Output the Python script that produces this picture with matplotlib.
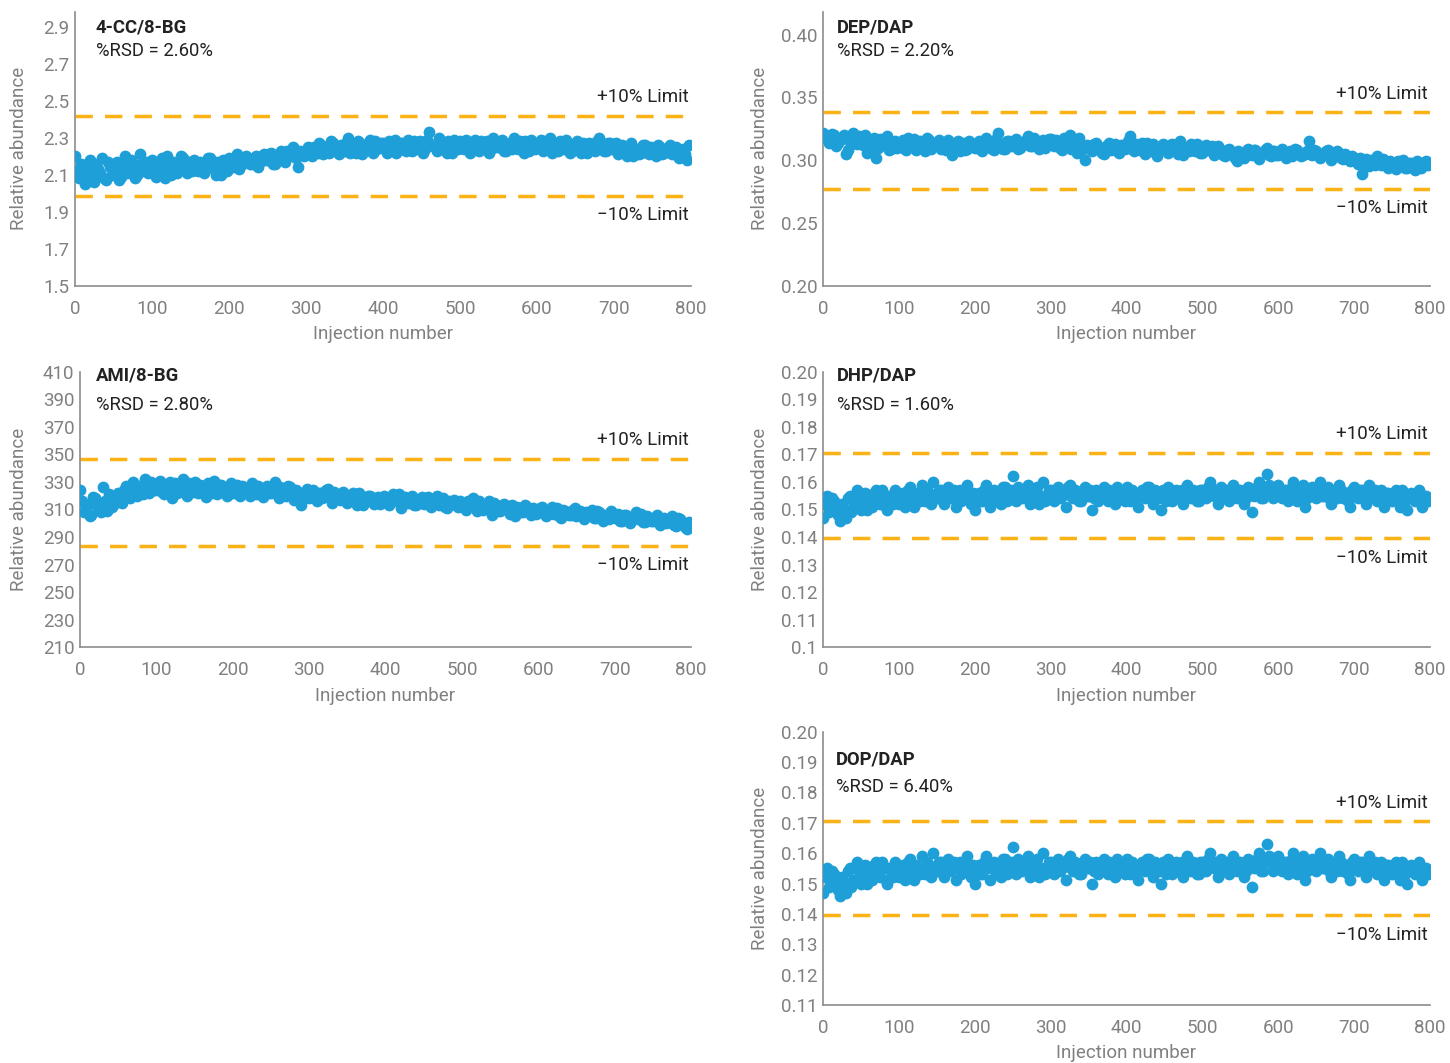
import numpy as np
import matplotlib
matplotlib.use('Agg')
import matplotlib.pyplot as plt
import matplotlib.transforms as mtransforms

plt.rcParams['font.family'] = ['Roboto', 'DejaVu Sans']

# injection numbers: two interleaved readings every 5 injections
injections = list(range(0, 800, 5))
injections_2 = [v + 2.5 for v in injections]

cc_vals = [2.20, 2.08, 2.15, 2.10, 2.18, 2.06, 2.13, 2.19, 2.07, 2.14,
           2.11, 2.17, 2.09, 2.20, 2.12, 2.16, 2.10, 2.21, 2.13, 2.11,
           2.18, 2.09, 2.15, 2.12, 2.20, 2.10, 2.16, 2.13, 2.19, 2.11,
           2.15, 2.18, 2.12, 2.16, 2.14, 2.19, 2.13, 2.17, 2.10, 2.16,
           2.19, 2.14, 2.21, 2.15, 2.17, 2.19, 2.16, 2.20, 2.17, 2.21,
           2.18, 2.22, 2.16, 2.20, 2.19, 2.23, 2.21, 2.24, 2.14, 2.22,
           2.23, 2.21, 2.25, 2.22, 2.26, 2.24, 2.22, 2.27, 2.24, 2.26,
           2.23, 2.30, 2.25, 2.22, 2.27, 2.24, 2.26, 2.23, 2.28, 2.25,
           2.27, 2.22, 2.26, 2.29, 2.24, 2.27, 2.23, 2.26, 2.28, 2.25,
           2.27, 2.24, 2.33, 2.26, 2.23, 2.27, 2.25, 2.28, 2.22, 2.26,
           2.28, 2.24, 2.27, 2.25, 2.29, 2.23, 2.26, 2.28, 2.24, 2.27,
           2.25, 2.29, 2.23, 2.27, 2.30, 2.24, 2.26, 2.28, 2.23, 2.27,
           2.25, 2.29, 2.24, 2.27, 2.22, 2.26, 2.28, 2.24, 2.27, 2.23,
           2.26, 2.24, 2.27, 2.22, 2.25, 2.23, 2.30, 2.26, 2.23, 2.27,
           2.24, 2.21, 2.26, 2.23, 2.25, 2.20, 2.24, 2.22, 2.26, 2.21,
           2.24, 2.20, 2.25, 2.22, 2.23, 2.21, 2.25, 2.19, 2.24, 2.18]
cc_vals_2 = [2.12, 2.16, 2.05, 2.12, 2.09, 2.16, 2.11, 2.08, 2.17, 2.10,
             2.15, 2.07, 2.14, 2.11, 2.18, 2.08, 2.15, 2.12, 2.17, 2.14,
             2.12, 2.16, 2.19, 2.08, 2.14, 2.17, 2.11, 2.20, 2.15, 2.17,
             2.12, 2.14, 2.17, 2.11, 2.19, 2.15, 2.10, 2.14, 2.18, 2.12,
             2.15, 2.17, 2.13, 2.18, 2.20, 2.16, 2.19, 2.14, 2.20, 2.18,
             2.21, 2.16, 2.19, 2.23, 2.17, 2.20, 2.25, 2.19, 2.23, 2.20,
             2.25, 2.20, 2.23, 2.27, 2.21, 2.25, 2.28, 2.23, 2.21, 2.25,
             2.27, 2.22, 2.26, 2.28, 2.21, 2.25, 2.29, 2.22, 2.24, 2.27,
             2.24, 2.28, 2.25, 2.22, 2.27, 2.25, 2.29, 2.23, 2.24, 2.28,
             2.22, 2.29, 2.26, 2.25, 2.30, 2.24, 2.22, 2.26, 2.29, 2.24,
             2.25, 2.29, 2.22, 2.26, 2.24, 2.28, 2.25, 2.22, 2.30, 2.25,
             2.27, 2.23, 2.26, 2.24, 2.27, 2.28, 2.22, 2.25, 2.29, 2.24,
             2.27, 2.23, 2.26, 2.30, 2.25, 2.23, 2.26, 2.29, 2.22, 2.25,
             2.28, 2.22, 2.25, 2.27, 2.24, 2.28, 2.25, 2.23, 2.27, 2.24,
             2.27, 2.23, 2.25, 2.20, 2.27, 2.23, 2.21, 2.26, 2.23, 2.25,
             2.22, 2.26, 2.21, 2.24, 2.26, 2.22, 2.20, 2.23, 2.21, 2.26]

dep_vals = [0.322, 0.319, 0.316, 0.320, 0.314, 0.317, 0.305, 0.318, 0.322, 0.313,
            0.316, 0.320, 0.311, 0.308, 0.302, 0.317, 0.312, 0.319, 0.309, 0.315,
            0.311, 0.316, 0.308, 0.313, 0.317, 0.310, 0.314, 0.307, 0.316, 0.311,
            0.314, 0.309, 0.312, 0.316, 0.304, 0.311, 0.307, 0.314, 0.309, 0.313,
            0.310, 0.315, 0.307, 0.318, 0.311, 0.308, 0.322, 0.313, 0.309, 0.315,
            0.312, 0.317, 0.310, 0.314, 0.319, 0.311, 0.315, 0.309, 0.316, 0.313,
            0.317, 0.311, 0.314, 0.308, 0.316, 0.320, 0.312, 0.306, 0.313, 0.300,
            0.311, 0.307, 0.314, 0.309, 0.305, 0.312, 0.308, 0.313, 0.306, 0.310,
            0.312, 0.319, 0.307, 0.311, 0.314, 0.305, 0.310, 0.313, 0.303, 0.309,
            0.311, 0.306, 0.313, 0.308, 0.315, 0.304, 0.310, 0.313, 0.307, 0.311,
            0.306, 0.312, 0.308, 0.304, 0.311, 0.307, 0.303, 0.309, 0.305, 0.299,
            0.306, 0.302, 0.309, 0.304, 0.308, 0.301, 0.306, 0.310, 0.303, 0.307,
            0.304, 0.309, 0.302, 0.307, 0.305, 0.308, 0.303, 0.306, 0.315, 0.304,
            0.307, 0.302, 0.305, 0.308, 0.300, 0.304, 0.306, 0.301, 0.303, 0.299,
            0.302, 0.297, 0.289, 0.301, 0.295, 0.299, 0.303, 0.296, 0.300, 0.294,
            0.298, 0.293, 0.297, 0.300, 0.294, 0.298, 0.292, 0.297, 0.295, 0.299]
dep_vals_2 = [0.318, 0.314, 0.321, 0.311, 0.316, 0.320, 0.308, 0.313, 0.317, 0.319,
              0.312, 0.306, 0.315, 0.318, 0.310, 0.313, 0.316, 0.308, 0.313, 0.310,
              0.314, 0.309, 0.318, 0.312, 0.308, 0.315, 0.311, 0.318, 0.309, 0.313,
              0.316, 0.312, 0.308, 0.313, 0.310, 0.315, 0.312, 0.308, 0.315, 0.311,
              0.313, 0.309, 0.312, 0.314, 0.309, 0.317, 0.311, 0.309, 0.315, 0.311,
              0.315, 0.309, 0.313, 0.316, 0.311, 0.318, 0.312, 0.314, 0.310, 0.317,
              0.313, 0.316, 0.310, 0.318, 0.312, 0.309, 0.315, 0.318, 0.309, 0.312,
              0.309, 0.313, 0.310, 0.306, 0.311, 0.314, 0.310, 0.307, 0.312, 0.309,
              0.315, 0.309, 0.313, 0.308, 0.310, 0.314, 0.307, 0.311, 0.309, 0.313,
              0.308, 0.312, 0.309, 0.305, 0.311, 0.309, 0.307, 0.311, 0.313, 0.306,
              0.310, 0.308, 0.311, 0.306, 0.309, 0.304, 0.308, 0.306, 0.302, 0.307,
              0.303, 0.307, 0.305, 0.308, 0.303, 0.306, 0.308, 0.304, 0.307, 0.304,
              0.307, 0.305, 0.306, 0.303, 0.309, 0.306, 0.304, 0.307, 0.305, 0.308,
              0.305, 0.304, 0.307, 0.303, 0.305, 0.307, 0.302, 0.305, 0.301, 0.303,
              0.299, 0.302, 0.298, 0.297, 0.300, 0.296, 0.298, 0.301, 0.297, 0.299,
              0.295, 0.299, 0.296, 0.294, 0.298, 0.296, 0.299, 0.294, 0.298, 0.296]

ami_vals = [324, 308, 313, 306, 318, 310, 326, 309, 320, 314,
            322, 315, 327, 318, 330, 320, 325, 332, 322, 328,
            324, 331, 321, 327, 318, 329, 323, 332, 320, 326,
            330, 322, 327, 319, 325, 331, 321, 328, 323, 326,
            322, 328, 320, 326, 323, 329, 321, 325, 319, 327,
            322, 330, 318, 324, 320, 326, 317, 323, 313, 321,
            318, 324, 316, 322, 319, 325, 315, 321, 317, 323,
            315, 320, 316, 322, 313, 318, 320, 314, 319, 316,
            318, 313, 321, 316, 311, 319, 315, 320, 313, 317,
            314, 319, 312, 316, 313, 318, 311, 315, 317, 312,
            315, 310, 314, 318, 309, 313, 311, 316, 306, 312,
            309, 314, 310, 313, 305, 311, 308, 312, 306, 310,
            308, 312, 305, 310, 307, 311, 304, 309, 306, 310,
            305, 309, 303, 307, 310, 304, 308, 302, 306, 309,
            304, 307, 302, 306, 300, 305, 303, 307, 301, 304,
            302, 306, 299, 304, 301, 305, 298, 303, 300, 296]
ami_vals_2 = [316, 312, 305, 319, 313, 308, 316, 321, 312, 318,
              316, 324, 319, 325, 322, 327, 321, 326, 330, 324,
              328, 323, 326, 330, 325, 322, 327, 324, 329, 323,
              325, 328, 324, 329, 322, 326, 328, 324, 320, 329,
              325, 321, 327, 324, 320, 325, 327, 323, 325, 322,
              326, 321, 326, 322, 327, 320, 324, 321, 318, 325,
              321, 320, 322, 318, 324, 320, 323, 318, 321, 319,
              318, 322, 313, 319, 317, 320, 316, 318, 314, 320,
              315, 319, 317, 321, 314, 317, 318, 313, 316, 319,
              317, 314, 316, 320, 315, 312, 316, 314, 313, 316,
              312, 316, 313, 311, 316, 310, 314, 313, 315, 309,
              313, 311, 307, 310, 312, 308, 313, 309, 311, 307,
              311, 309, 307, 312, 309, 305, 310, 308, 306, 311,
              307, 305, 308, 306, 304, 309, 305, 306, 303, 307,
              305, 302, 306, 304, 303, 308, 305, 301, 305, 302,
              304, 301, 303, 300, 303, 299, 304, 302, 297, 301]

dhp_vals = [0.147, 0.155, 0.150, 0.153, 0.148, 0.152, 0.147, 0.155, 0.151, 0.157,
            0.150, 0.156, 0.153, 0.151, 0.157, 0.152, 0.155, 0.150, 0.154, 0.157,
            0.152, 0.156, 0.153, 0.158, 0.151, 0.155, 0.159, 0.153, 0.156, 0.160,
            0.154, 0.157, 0.152, 0.158, 0.155, 0.151, 0.157, 0.154, 0.159, 0.152,
            0.150, 0.156, 0.153, 0.159, 0.151, 0.157, 0.154, 0.152, 0.158, 0.155,
            0.162, 0.153, 0.157, 0.155, 0.159, 0.153, 0.156, 0.152, 0.160, 0.154,
            0.157, 0.153, 0.158, 0.155, 0.151, 0.159, 0.154, 0.156, 0.153, 0.158,
            0.155, 0.150, 0.157, 0.154, 0.158, 0.153, 0.156, 0.152, 0.157, 0.155,
            0.158, 0.153, 0.156, 0.151, 0.157, 0.154, 0.158, 0.152, 0.156, 0.150,
            0.155, 0.158, 0.153, 0.157, 0.155, 0.152, 0.159, 0.154, 0.156, 0.153,
            0.157, 0.154, 0.160, 0.155, 0.152, 0.158, 0.156, 0.153, 0.159, 0.154,
            0.157, 0.152, 0.158, 0.149, 0.156, 0.160, 0.154, 0.163, 0.157, 0.155,
            0.159, 0.154, 0.157, 0.155, 0.160, 0.153, 0.157, 0.151, 0.156, 0.158,
            0.154, 0.160, 0.155, 0.158, 0.152, 0.157, 0.159, 0.154, 0.156, 0.151,
            0.158, 0.154, 0.157, 0.152, 0.159, 0.155, 0.153, 0.157, 0.151, 0.156,
            0.153, 0.157, 0.151, 0.155, 0.150, 0.156, 0.153, 0.157, 0.151, 0.155]
dhp_vals_2 = [0.152, 0.149, 0.154, 0.151, 0.146, 0.150, 0.154, 0.149, 0.155, 0.152,
              0.154, 0.150, 0.152, 0.156, 0.153, 0.157, 0.151, 0.155, 0.152, 0.153,
              0.155, 0.151, 0.157, 0.154, 0.156, 0.153, 0.155, 0.157, 0.152, 0.155,
              0.157, 0.153, 0.156, 0.154, 0.157, 0.156, 0.153, 0.157, 0.155, 0.156,
              0.154, 0.153, 0.157, 0.155, 0.156, 0.153, 0.156, 0.158, 0.153, 0.157,
              0.156, 0.158, 0.154, 0.157, 0.152, 0.156, 0.158, 0.155, 0.153, 0.157,
              0.155, 0.157, 0.154, 0.156, 0.158, 0.155, 0.157, 0.153, 0.157, 0.155,
              0.157, 0.154, 0.153, 0.156, 0.155, 0.157, 0.154, 0.158, 0.155, 0.153,
              0.155, 0.157, 0.154, 0.156, 0.155, 0.158, 0.155, 0.157, 0.154, 0.157,
              0.153, 0.156, 0.155, 0.154, 0.157, 0.156, 0.155, 0.157, 0.153, 0.157,
              0.155, 0.158, 0.156, 0.157, 0.155, 0.154, 0.157, 0.155, 0.156, 0.157,
              0.155, 0.154, 0.156, 0.155, 0.158, 0.154, 0.157, 0.159, 0.154, 0.158,
              0.156, 0.157, 0.153, 0.158, 0.155, 0.156, 0.159, 0.154, 0.157, 0.155,
              0.157, 0.155, 0.157, 0.154, 0.156, 0.154, 0.157, 0.156, 0.153, 0.157,
              0.155, 0.157, 0.155, 0.154, 0.156, 0.157, 0.155, 0.154, 0.156, 0.154,
              0.156, 0.154, 0.157, 0.153, 0.155, 0.154, 0.156, 0.153, 0.155, 0.153]

# DOP/DAP panel shows the same scatter as DHP/DAP in the source figure
dop_vals = list(dhp_vals)
dop_vals_2 = list(dhp_vals_2)

names = ['4-CC/8-BG', 'DEP/DAP', 'AMI/8-BG', 'DHP/DAP', 'DOP/DAP']
rsd_labels = ['%RSD = 2.60%', '%RSD = 2.20%', '%RSD = 2.80%', '%RSD = 1.60%', '%RSD = 6.40%']
upper_limits = [2.42, 0.338, 346.8, 0.1705, 0.1705]
lower_limits = [1.985, 0.277, 283.8, 0.1395, 0.1395]
ytick_labels = [['1.5', '1.7', '1.9', '2.1', '2.3', '2.5', '2.7', '2.9'],
                ['0.20', '0.25', '0.30', '0.35', '0.40'],
                ['210', '230', '250', '270', '290', '310', '330', '350', '370', '390', '410'],
                ['0.1', '0.11', '0.12', '0.13', '0.14', '0.15', '0.16', '0.17', '0.18', '0.19', '0.20'],
                ['0.11', '0.12', '0.13', '0.14', '0.15', '0.16', '0.17', '0.18', '0.19', '0.20']]
xtick_labels = ['0', '100', '200', '300', '400', '500', '600', '700', '800']
all_vals = [cc_vals, dep_vals, ami_vals, dhp_vals, dop_vals]
all_vals_2 = [cc_vals_2, dep_vals_2, ami_vals_2, dhp_vals_2, dop_vals_2]

W, H = 1450, 1063
# layout in pixels: left, right, top, bottom of each axes box, ylim top
boxes = [(75, 691, 12, 285.7, 2.98),
         (823, 1430, 12, 285.7, 0.418),
         (80, 691, 371.7, 647.3, 410),
         (823, 1430, 371.7, 647.3, 0.20),
         (823, 1430, 731.7, 1005, 0.20)]
title_pos = [(96, 27, 51), (837, 27, 51), (96, 375, 405), (837, 375, 405), (836, 760, 787)]
ylabel_x = [19, 760, 19, 760, 760]

blue = '#1E9FD8'
orange = '#FBB215'
grey = '#808080'
dark = '#222222'
fs = 13.5

fig = plt.figure(figsize=(W / 100, H / 100), dpi=100)

for i in range(5):
    l, r, t, b, ytop = boxes[i]
    ax = fig.add_axes([l / W, 1 - b / H, (r - l) / W, (b - t) / H])
    ax.scatter(injections, all_vals[i], s=72, color=blue, linewidths=0, zorder=3)
    ax.scatter(injections_2, all_vals_2[i], s=72, color=blue, linewidths=0, zorder=3)

    ax.axhline(upper_limits[i], color=orange, lw=2.5, dashes=(5, 3.5), zorder=2)
    ax.axhline(lower_limits[i], color=orange, lw=2.5, dashes=(5, 3.5), zorder=2)
    tr = mtransforms.blended_transform_factory(ax.transAxes, ax.transData)
    ax.annotate('+10% Limit', xy=(0.997, upper_limits[i]), xycoords=tr,
                xytext=(0, 13.5), textcoords='offset points', ha='right', va='center',
                fontsize=fs, color=dark)
    ax.annotate('\u221210% Limit', xy=(0.997, lower_limits[i]), xycoords=tr,
                xytext=(0, -14), textcoords='offset points', ha='right', va='center',
                fontsize=fs, color=dark)

    yt = [float(v) for v in ytick_labels[i]]
    ax.set_ylim(yt[0], ytop)
    ax.set_yticks(yt)
    ax.set_yticklabels(ytick_labels[i])
    ax.set_xlim(0, 800)
    ax.set_xticks([float(v) for v in xtick_labels])
    ax.set_xticklabels(xtick_labels)

    for s in ['top', 'right']:
        ax.spines[s].set_visible(False)
    for s in ['left', 'bottom']:
        ax.spines[s].set_color('#8c8c8c')
        ax.spines[s].set_linewidth(1.2)
    ax.tick_params(length=0, labelsize=fs, labelcolor=grey)
    ax.tick_params(axis='x', pad=10)
    ax.tick_params(axis='y', pad=4)

    ax.set_xlabel('Injection number', fontsize=fs, color=grey)
    ax.xaxis.set_label_coords(0.5, -(48.5 / (b - t)))
    ax.xaxis.label.set_va('center')
    ax.set_ylabel('Relative abundance', fontsize=fs, color=grey)
    ax.yaxis.set_label_coords(-(l - ylabel_x[i]) / (r - l), 0.5)
    ax.yaxis.label.set_va('center')

    tx, ty1, ty2 = title_pos[i]
    fig.text(tx / W, 1 - ty1 / H, names[i], fontsize=13.3, fontweight='bold',
             color=dark, va='center')
    fig.text(tx / W, 1 - ty2 / H, rsd_labels[i], fontsize=13.3, color=dark, va='center')

fig.savefig('out.png', dpi=100)
